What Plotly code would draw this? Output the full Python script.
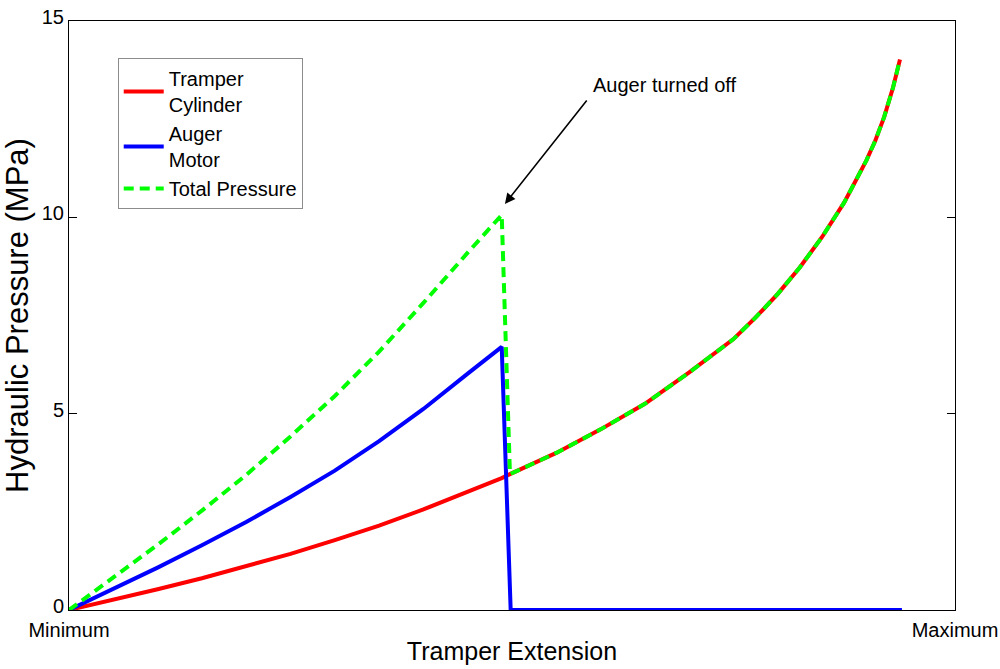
import plotly.graph_objects as go

# Tramper extension is normalised from Minimum (0) to Maximum (1)
tramper_x = [0, 0.05, 0.10, 0.15, 0.20, 0.25, 0.30, 0.35, 0.40, 0.45, 0.4884, 0.4977,
             0.55, 0.60, 0.65, 0.70, 0.725, 0.75, 0.775, 0.80, 0.825, 0.85, 0.875, 0.90,
             0.91, 0.92, 0.93, 0.9379]
tramper_p = [0, 0.26, 0.53, 0.81, 1.11, 1.43, 1.78, 2.15, 2.56, 3.00, 3.36, 3.46,
             4.00, 4.60, 5.25, 6.05, 6.46, 6.90, 7.45, 8.05, 8.73, 9.50, 10.38, 11.45,
             11.95, 12.55, 13.30, 14.02]

auger_x = [0, 0.05, 0.10, 0.15, 0.20, 0.25, 0.30, 0.35, 0.40, 0.45, 0.4884, 0.4985, 0.9401]
auger_p = [0, 0.53, 1.08, 1.65, 2.24, 2.88, 3.55, 4.30, 5.12, 6.02, 6.70, 0, 0]

total_x = [0, 0.05, 0.10, 0.15, 0.20, 0.25, 0.30, 0.35, 0.40, 0.45, 0.4884, 0.4977,
           0.55, 0.60, 0.65, 0.70, 0.725, 0.75, 0.775, 0.80, 0.825, 0.85, 0.875, 0.90,
           0.91, 0.92, 0.93, 0.9379]
total_p = [0, 0.82, 1.66, 2.53, 3.44, 4.42, 5.45, 6.58, 7.82, 9.10, 10.06, 3.46,
           4.00, 4.60, 5.25, 6.05, 6.46, 6.90, 7.45, 8.05, 8.73, 9.50, 10.38, 11.45,
           11.95, 12.55, 13.30, 14.02]

x_tick_vals = [0, 1]
x_tick_text = ["Minimum", "Maximum"]
y_tick_vals = [0, 5, 10, 15]

FONT = "Arial, 'Liberation Sans', Helvetica, sans-serif"

fig = go.Figure()
fig.add_trace(go.Scatter(x=tramper_x, y=tramper_p, mode="lines",
                         name="Tramper<br>Cylinder",
                         line=dict(color="rgb(255,0,0)", width=4)))
fig.add_trace(go.Scatter(x=auger_x, y=auger_p, mode="lines",
                         name="Auger<br>Motor",
                         line=dict(color="rgb(0,0,255)", width=4)))
fig.add_trace(go.Scatter(x=total_x, y=total_p, mode="lines",
                         name="Total Pressure",
                         line=dict(color="rgb(0,255,0)", width=4, dash="10px,6px")))

# arrow pointing at the pressure peak where the auger switches off
fig.add_annotation(x=0.492, y=10.34, xref="x", yref="y", text="",
                   showarrow=True, arrowhead=2, arrowsize=1.3, arrowwidth=1.6,
                   arrowcolor="black", ax=83, ay=-105, standoff=0)
fig.add_annotation(x=0.673, y=13.37, xref="x", yref="y", text="Auger turned off",
                   showarrow=False, font=dict(family=FONT, size=20, color="black"))

axis_common = dict(showline=True, linecolor="black", linewidth=1, mirror="ticks",
                   ticks="inside", ticklen=8, tickcolor="black", showgrid=False,
                   zeroline=False, automargin=False, ticklabeloverflow="allow",
                   tickfont=dict(family=FONT, size=20, color="black"))

fig.update_xaxes(range=[0, 1], tickvals=x_tick_vals, ticktext=x_tick_text,
                 ticklabelstandoff=2,
                 title=dict(text="Tramper Extension", standoff=2,
                            font=dict(family=FONT, size=25, color="black")),
                 **axis_common)
fig.update_yaxes(range=[0, 15], tickvals=y_tick_vals, ticklabelshift=-4,
                 title=dict(text="Hydraulic Pressure (MPa)", standoff=4,
                            font=dict(family=FONT, size=31, color="black")),
                 **axis_common)

fig.update_layout(
    width=1000, height=669,
    margin=dict(l=69, r=45, t=21, b=59),
    paper_bgcolor="white", plot_bgcolor="white",
    showlegend=True,
    legend=dict(x=0.055, y=0.937, xanchor="left", yanchor="top",
                bgcolor="white", bordercolor="#8c8c8c", borderwidth=1,
                font=dict(family=FONT, size=20, color="black"),
                tracegroupgap=0, itemwidth=40),
    font=dict(family=FONT, color="black"),
)

fig.write_html("out.html")
